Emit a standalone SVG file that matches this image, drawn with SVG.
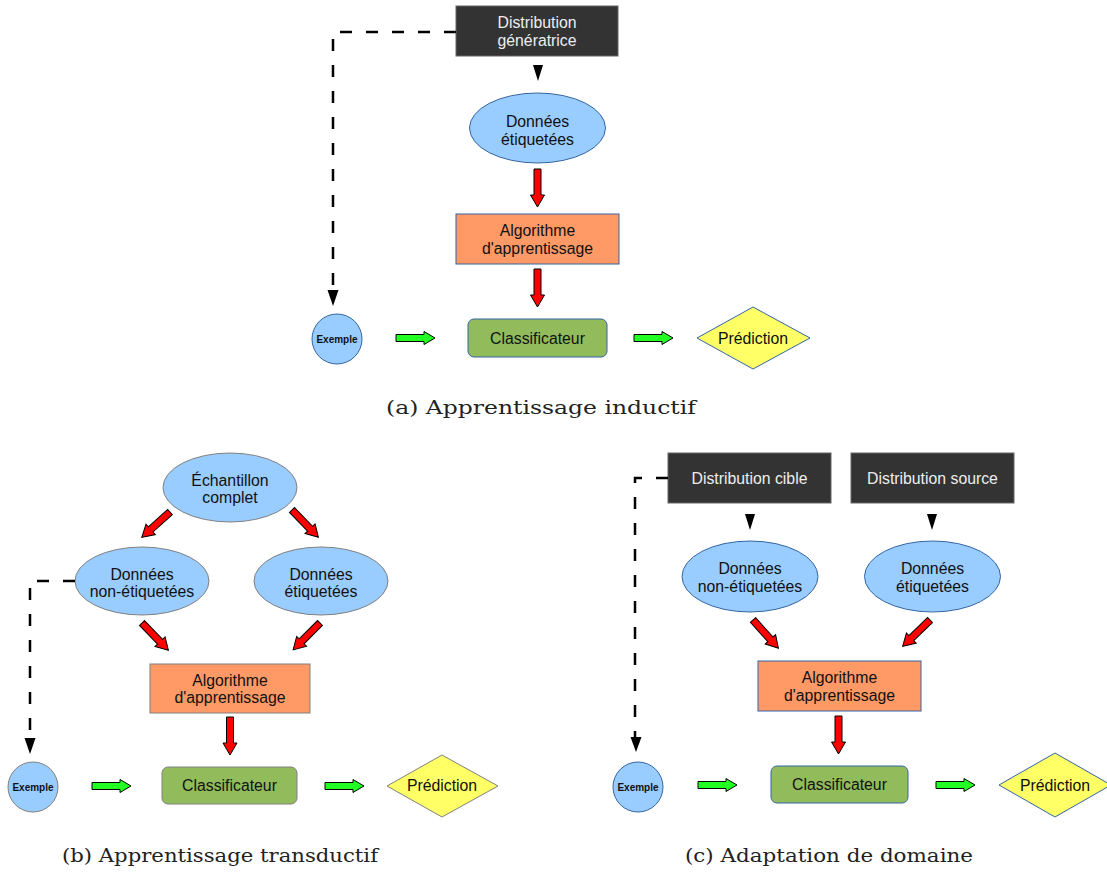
<svg xmlns="http://www.w3.org/2000/svg" xmlns:xlink="http://www.w3.org/1999/xlink" width="1107" height="873" viewBox="0 0 1107 873">
<style>
.t{font-family:"Liberation Sans",Arial,sans-serif;font-size:15.8px;fill:#111;text-anchor:middle}
.tw{font-family:"Liberation Sans",Arial,sans-serif;font-size:15.8px;fill:#eeeeee;text-anchor:middle}
.tb{font-family:"Liberation Sans",Arial,sans-serif;font-size:10px;font-weight:bold;fill:#111;text-anchor:middle}
.cap{font-family:"DejaVu Serif","Liberation Serif",serif;font-size:19px;fill:#222;text-anchor:middle}
.dark{fill:#333333;stroke:#666;stroke-width:1}
.ell{fill:#99ccff;stroke:#3465a4;stroke-width:1}
.ellg{fill:#99ccff;stroke:#808080;stroke-width:1}
.alg{fill:#ff9966;stroke:#3465a4;stroke-width:1}
.algg{fill:#ff9966;stroke:#808080;stroke-width:1}
.cls{fill:#92bb5c;stroke:#3465a4;stroke-width:1}
.clsg{fill:#92bb5c;stroke:#808080;stroke-width:1}
.pred{fill:#ffff66;stroke:#3465a4;stroke-width:1}
.predg{fill:#ffff66;stroke:#808080;stroke-width:1}
.dash{fill:none;stroke:#000;stroke-width:2.5;stroke-dasharray:12 14}
.head{fill:#000}
</style>
<defs>
<path id="red" d="M0,-3.5 H26 V-7 L38,0 L26,7 V3.5 H0 Z" fill="#ff0000" stroke="#000" stroke-width="1"/>
<path id="grn" d="M0,-3.5 H28 V-6.5 L39,0 L28,6.5 V3.5 H0 Z" fill="#22ff22" stroke="#000" stroke-width="1"/>
</defs>

<!-- ===== Panel (a) ===== -->
<g id="a-distribution">
<rect class="dark" x="456" y="6" width="162" height="50"/>
<text class="tw" x="537" y="28">Distribution</text>
<text class="tw" x="537" y="46">génératrice</text>
</g>
<g id="a-donnees">
<ellipse class="ell" cx="537.5" cy="128" rx="68" ry="35"/>
<text class="t" x="537.5" y="127">Données</text>
<text class="t" x="537.5" y="145">étiquetées</text>
</g>
<g id="a-algo">
<rect class="alg" x="456" y="214" width="163" height="50"/>
<text class="t" x="537.5" y="236">Algorithme</text>
<text class="t" x="537.5" y="254">d'apprentissage</text>
</g>
<g id="a-exemple">
<circle class="ell" cx="337" cy="339" r="25"/>
<text class="tb" x="337" y="342.5">Exemple</text>
</g>
<g id="a-classif">
<rect class="cls" x="468" y="319" width="139" height="38" rx="6"/>
<text class="t" x="537.5" y="344">Classificateur</text>
</g>
<g id="a-pred">
<polygon class="pred" points="697,338 753,307 810,338 753,369"/>
<text class="t" x="753" y="344">Prédiction</text>
</g>
<g id="a-connectors">
<path class="dash" d="M456,32 H333 V290"/>
<polygon class="head" points="327.5,290 338.5,290 333,306"/>
<polygon class="head" points="533,65 543,65 538,81"/>
<use xlink:href="#red" href="#red" transform="translate(537.5,169) rotate(90)"/>
<use xlink:href="#red" href="#red" transform="translate(537.5,269) rotate(90)"/>
<use xlink:href="#grn" href="#grn" transform="translate(396,338)"/>
<use xlink:href="#grn" href="#grn" transform="translate(634,338)"/>
</g>
<text class="cap" x="541" y="414" textLength="310" lengthAdjust="spacingAndGlyphs">(a) Apprentissage inductif</text>

<!-- ===== Panel (b) ===== -->
<g id="b-echantillon">
<ellipse class="ellg" cx="230" cy="487.5" rx="67" ry="34.5"/>
<text class="t" x="230" y="486">Échantillon</text>
<text class="t" x="230" y="503">complet</text>
</g>
<g id="b-nonetiq">
<ellipse class="ellg" cx="142" cy="581" rx="67" ry="34"/>
<text class="t" x="142" y="580">Données</text>
<text class="t" x="142" y="597">non-étiquetées</text>
</g>
<g id="b-etiq">
<ellipse class="ellg" cx="321" cy="581" rx="67" ry="34"/>
<text class="t" x="321" y="580">Données</text>
<text class="t" x="321" y="597">étiquetées</text>
</g>
<g id="b-algo">
<rect class="algg" x="150" y="664" width="160" height="49"/>
<text class="t" x="230" y="686">Algorithme</text>
<text class="t" x="230" y="703">d'apprentissage</text>
</g>
<g id="b-exemple">
<circle class="ellg" cx="33" cy="787" r="25"/>
<text class="tb" x="33" y="790.5">Exemple</text>
</g>
<g id="b-classif">
<rect class="clsg" x="162" y="767" width="135" height="37" rx="6"/>
<text class="t" x="229.5" y="791">Classificateur</text>
</g>
<g id="b-pred">
<polygon class="predg" points="387,786 442,755 498,786 442,817"/>
<text class="t" x="442" y="791">Prédiction</text>
</g>
<g id="b-connectors">
<path class="dash" d="M75,581 H30 V738"/>
<polygon class="head" points="24.5,738 35.5,738 30,754"/>
<use xlink:href="#red" href="#red" transform="translate(170,512) rotate(138)"/>
<use xlink:href="#red" href="#red" transform="translate(292,510) rotate(46)"/>
<use xlink:href="#red" href="#red" transform="translate(142,623) rotate(46)"/>
<use xlink:href="#red" href="#red" transform="translate(320,623) rotate(135)"/>
<use xlink:href="#red" href="#red" transform="translate(230,717) rotate(90)"/>
<use xlink:href="#grn" href="#grn" transform="translate(92,786)"/>
<use xlink:href="#grn" href="#grn" transform="translate(325,786)"/>
</g>
<text class="cap" x="220" y="862" textLength="316" lengthAdjust="spacingAndGlyphs">(b) Apprentissage transductif</text>

<!-- ===== Panel (c) ===== -->
<g id="c-cible">
<rect class="dark" x="668" y="453" width="163" height="50"/>
<text class="tw" x="749.5" y="484">Distribution cible</text>
</g>
<g id="c-source">
<rect class="dark" x="851" y="453" width="163" height="50"/>
<text class="tw" x="932.5" y="484">Distribution source</text>
</g>
<g id="c-nonetiq">
<ellipse class="ell" cx="750" cy="576.5" rx="68" ry="35.5"/>
<text class="t" x="750" y="574">Données</text>
<text class="t" x="750" y="592">non-étiquetées</text>
</g>
<g id="c-etiq">
<ellipse class="ell" cx="932.5" cy="576.5" rx="68" ry="35.5"/>
<text class="t" x="932.5" y="574">Données</text>
<text class="t" x="932.5" y="592">étiquetées</text>
</g>
<g id="c-algo">
<rect class="alg" x="758" y="661" width="163" height="50"/>
<text class="t" x="839.5" y="683">Algorithme</text>
<text class="t" x="839.5" y="701">d'apprentissage</text>
</g>
<g id="c-exemple">
<circle class="ell" cx="638" cy="787" r="25"/>
<text class="tb" x="638" y="790.5">Exemple</text>
</g>
<g id="c-classif">
<rect class="cls" x="771" y="766" width="137" height="37" rx="6"/>
<text class="t" x="839.5" y="790">Classificateur</text>
</g>
<g id="c-pred">
<polygon class="pred" points="999,785 1055,753 1111,785 1055,817"/>
<text class="t" x="1055" y="791">Prédiction</text>
</g>
<g id="c-connectors">
<path class="dash" d="M668,478 H635 V737"/>
<polygon class="head" points="630.5,737 641.5,737 636,752"/>
<polygon class="head" points="745,514 755,514 750,530"/>
<polygon class="head" points="927,514 937,514 932,530"/>
<use xlink:href="#red" href="#red" transform="translate(753,620) rotate(48)"/>
<use xlink:href="#red" href="#red" transform="translate(930,620) rotate(136)"/>
<use xlink:href="#red" href="#red" transform="translate(838.5,716) rotate(90)"/>
<use xlink:href="#grn" href="#grn" transform="translate(698,785)"/>
<use xlink:href="#grn" href="#grn" transform="translate(936,785)"/>
</g>
<text class="cap" x="829" y="862" textLength="288" lengthAdjust="spacingAndGlyphs">(c) Adaptation de domaine</text>
</svg>
